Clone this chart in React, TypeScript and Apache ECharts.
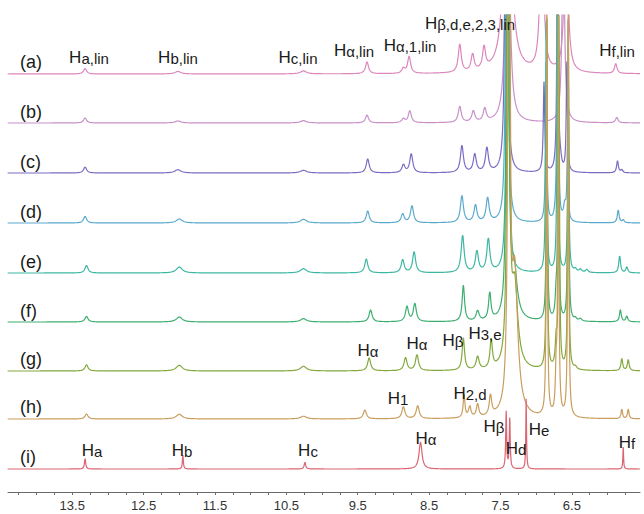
import React, { useEffect, useRef } from "react";
import * as echarts from "echarts";

// ---- data (ppm, height in px units, half-width in ppm) ----
const traceNames = ["(a)", "(b)", "(c)", "(d)", "(e)", "(f)", "(g)", "(h)", "(i)"];
const traceColors = ["#dc86bd", "#c790c9", "#7a6cc4", "#5aaacd", "#3cb7a1", "#3dae70", "#83a83c", "#c99d5e", "#db6572"];
const traceOffsets = [418, 369, 319, 269, 219, 170, 121, 73, 23];

const peaksA = [
  [13.32, 5.5, 0.025], [12.02, 2.5, 0.05], [10.26, 3, 0.05],
  [9.37, 12, 0.025], [8.86, 5, 0.025], [8.78, 17, 0.025],
  [8.07, 28, 0.025], [7.89, 17, 0.025], [7.73, 22, 0.025],
  [7.40, 280, 0.05], [6.92, 200, 0.025], [6.58, 200, 0.025], [5.885, 10, 0.02],
];
const peaksB = [
  [13.32, 5, 0.025], [12.02, 2, 0.05], [10.26, 2.3, 0.05],
  [9.37, 8, 0.025], [8.86, 4, 0.025], [8.77, 12, 0.025],
  [8.07, 16, 0.025], [7.88, 11, 0.025], [7.72, 13, 0.025],
  [7.40, 400, 0.025], [6.62, 200, 0.02], [5.87, 5.5, 0.02],
];
const peaksC = [
  [13.32, 6, 0.025], [12.02, 3.3, 0.05], [10.26, 2.7, 0.05],
  [9.36, 14, 0.025], [8.86, 8, 0.025], [8.75, 19, 0.025],
  [8.04, 27, 0.025], [7.86, 18, 0.025], [7.69, 24, 0.025],
  [7.42, 800, 0.012], [6.89, 90, 0.012], [6.70, 300, 0.01], [6.66, 8, 0.02],
  [6.57, 109, 0.01], [5.86, 12, 0.015], [5.80, 3, 0.015],
];
const peaksD = [
  [13.32, 6.7, 0.025], [12.0, 4, 0.05], [10.26, 3.7, 0.05],
  [9.36, 12, 0.025], [8.87, 9, 0.025], [8.74, 17, 0.025],
  [8.04, 27, 0.025], [7.85, 17, 0.025], [7.68, 24, 0.025],
  [7.41, 800, 0.012], [6.86, 160, 0.01], [6.70, 300, 0.01], [6.60, 15, 0.02],
  [6.56, 80, 0.01], [5.85, 13, 0.015], [5.78, 3, 0.015],
];
const peaksE = [
  [13.30, 7.7, 0.025], [12.0, 6, 0.05], [10.26, 4.3, 0.05],
  [9.38, 14, 0.025], [8.87, 13, 0.025], [8.71, 21, 0.025],
  [8.03, 37, 0.025], [7.83, 21, 0.025], [7.67, 33, 0.025],
  [7.40, 800, 0.012], [6.86, 250, 0.009], [6.70, 300, 0.009], [6.55, 200, 0.009],
  [6.45, 3, 0.02], [6.38, 3, 0.02], [6.29, 3, 0.02], [5.83, 17, 0.015], [5.73, 6, 0.015],
];
const peaksF = [
  [13.30, 5.7, 0.025], [12.0, 5, 0.05], [10.26, 3.3, 0.05],
  [9.32, 12, 0.025], [8.81, 15, 0.025], [8.70, 18, 0.025],
  [8.02, 36, 0.02], [7.82, 10, 0.025], [7.65, 27, 0.02],
  [7.40, 900, 0.012], [7.31, 50, 0.05], [6.85, 300, 0.008], [6.72, 22, 0.015],
  [6.69, 300, 0.008], [6.55, 300, 0.008], [6.45, 2.5, 0.02], [6.38, 2.5, 0.02],
  [5.82, 12, 0.015], [5.73, 6, 0.015],
];
const peaksG = [
  [13.30, 6.3, 0.025], [12.0, 5.7, 0.05], [10.26, 4.7, 0.05],
  [9.34, 13, 0.025], [8.83, 13, 0.025], [8.67, 16, 0.025],
  [8.02, 32, 0.02], [7.82, 13, 0.025], [7.63, 28, 0.02],
  [7.39, 1000, 0.012], [7.30, 80, 0.05], [6.85, 350, 0.008], [6.72, 25, 0.015],
  [6.68, 350, 0.008], [6.55, 350, 0.008], [6.45, 2.5, 0.02],
  [5.80, 12, 0.015], [5.71, 11, 0.015],
];
const peaksH = [
  [13.30, 5, 0.025], [12.0, 4.7, 0.05], [10.26, 2.7, 0.05],
  [9.40, 9, 0.025], [8.86, 12, 0.025], [8.66, 13, 0.025],
  [8.01, 23, 0.015], [7.93, 11, 0.02], [7.82, 13, 0.02], [7.64, 20, 0.02],
  [7.38, 1000, 0.012], [7.30, 140, 0.05], [6.85, 420, 0.008], [6.72, 40, 0.012],
  [6.69, 420, 0.008], [6.55, 420, 0.008], [5.80, 10, 0.012], [5.71, 10, 0.012],
];
const peaksI = [
  [13.32, 11, 0.01], [11.95, 14, 0.008], [10.24, 7, 0.012],
  [8.62, 27, 0.025], [7.42, 57, 0.008], [7.37, 50, 0.008],
  [7.14, 70, 0.006], [5.78, 22, 0.006],
];
const tracePeaks = [peaksA, peaksB, peaksC, peaksD, peaksE, peaksF, peaksG, peaksH, peaksI];

const xMin = 5.545;
const xMax = 14.4;
const axisLabelValues = [13.5, 12.5, 11.5, 10.5, 9.5, 8.5, 7.5, 6.5];
const axisTickValues = [
  14.25, 14.0, 13.75, 13.5, 13.25, 13.0, 12.75, 12.5, 12.25, 12.0, 11.75, 11.5,
  11.25, 11.0, 10.75, 10.5, 10.25, 10.0, 9.75, 9.5, 9.25, 9.0, 8.75, 8.5, 8.25,
  8.0, 7.75, 7.5, 7.25, 7.0, 6.75, 6.5, 6.25, 6.0, 5.75,
];

// peak labels: [rich text, center x, center y]
const peakLabels: [string, number, number][] = [
  ["{h|H}{s|a,lin}", 89, 57],
  ["{h|H}{s|b,lin}", 178, 57],
  ["{h|H}{s|c,lin}", 298, 57],
  ["{h|H}{s|α,lin}", 354, 50],
  ["{h|H}{s|α,1,lin}", 410, 45],
  ["{h|H}{s|β,d,e,2,3,lin}", 470, 23],
  ["{h|H}{s|f,lin}", 617, 50],
  ["{h|H}{s|α}", 368, 350],
  ["{h|H}{s|α}", 417, 343],
  ["{h|H}{s|β}", 453, 340],
  ["{h|H}{s|3,e}", 485, 333],
  ["{h|H}{s|1}", 398, 398],
  ["{h|H}{s|2,d}", 470, 393],
  ["{h|H}{s|a}", 92, 450],
  ["{h|H}{s|b}", 182, 450],
  ["{h|H}{s|c}", 308, 450],
  ["{h|H}{s|α}", 426, 438],
  ["{h|H}{s|β}", 494, 426],
  ["{h|H}{s|d}", 516, 448],
  ["{h|H}{s|e}", 539, 429],
  ["{h|H}{s|f}", 627, 442],
];
const traceLabelY = [63, 113, 163, 213, 263, 312, 360, 408, 458];

function buildSpectrum(peaks: number[][], offset: number) {
  const xs = new Set<number>();
  for (let i = 0; i <= Math.round((xMax - xMin) / 0.01); i++) xs.add(+(xMin + i * 0.01).toFixed(4));
  xs.add(xMax);
  for (const [c, , w] of peaks) {
    for (let k = -32; k <= 32; k++) {
      const x = c + (k * w) / 4;
      if (x >= xMin && x <= xMax) xs.add(+x.toFixed(5));
    }
  }
  const arr = Array.from(xs).sort((a, b) => a - b);
  return arr.map((x) => [
    x,
    offset + peaks.reduce((s, [c, h, w]) => s + h / (1 + ((x - c) / w) ** 2), 0),
  ]);
}

export default function App() {
  const ref = useRef<HTMLDivElement>(null);
  useEffect(() => {
    if (!ref.current) return;
    const chart = echarts.init(ref.current, null, { renderer: "svg" });
    const font = "'Liberation Sans', Arial, sans-serif";
    const series = tracePeaks.map((p, i) => ({
      type: "line",
      name: traceNames[i],
      data: buildSpectrum(p, traceOffsets[i]),
      showSymbol: false,
      symbol: "none",
      clip: true,
      silent: true,
      z: 2 + i,
      lineStyle: { color: traceColors[i], width: 1.2 },
    }));
    const graphics: any[] = [];
    traceNames.forEach((n, i) => {
      graphics.push({
        type: "text",
        left: 20,
        top: traceLabelY[i] - 10,
        style: { text: n, fontSize: 18, fontFamily: font, fill: "#1a1a1a" },
        z: 100,
      });
    });
    peakLabels.forEach(([t, x, y]) => {
      graphics.push({
        type: "text",
        x,
        y,
        z: 100,
        style: {
          text: t,
          align: "center",
          verticalAlign: "middle",
          fill: "#1a1a1a",
          rich: {
            h: { fontSize: 17, fontFamily: font, fill: "#1a1a1a", lineHeight: 18 },
            s: { fontSize: 15, fontFamily: font, fill: "#1a1a1a", lineHeight: 18, verticalAlign: "bottom" },
          },
        },
      });
    });
    chart.setOption({
      animation: false,
      backgroundColor: "#ffffff",
      grid: { left: 8, right: 4, top: 15, bottom: 22 },
      xAxis: {
        type: "value",
        min: xMin,
        max: xMax,
        inverse: true,
        splitLine: { show: false },
        axisLine: { lineStyle: { color: "#6a6a6a", width: 1 } },
        axisTick: { show: true, length: 3, customValues: axisTickValues, lineStyle: { color: "#6a6a6a" } },
        axisLabel: {
          customValues: axisLabelValues,
          formatter: (v: number) => v.toFixed(1),
          fontSize: 13,
          fontFamily: font,
          color: "#333",
          margin: 7,
        },
      },
      yAxis: { type: "value", min: 0, max: 477, show: false },
      series,
      graphic: graphics,
    });
    return () => chart.dispose();
  }, []);
  return (
    <div
      ref={ref}
      style={{ position: "absolute", left: 0, top: 0, width: 644, height: 514, background: "#fff" }}
    />
  );
}
